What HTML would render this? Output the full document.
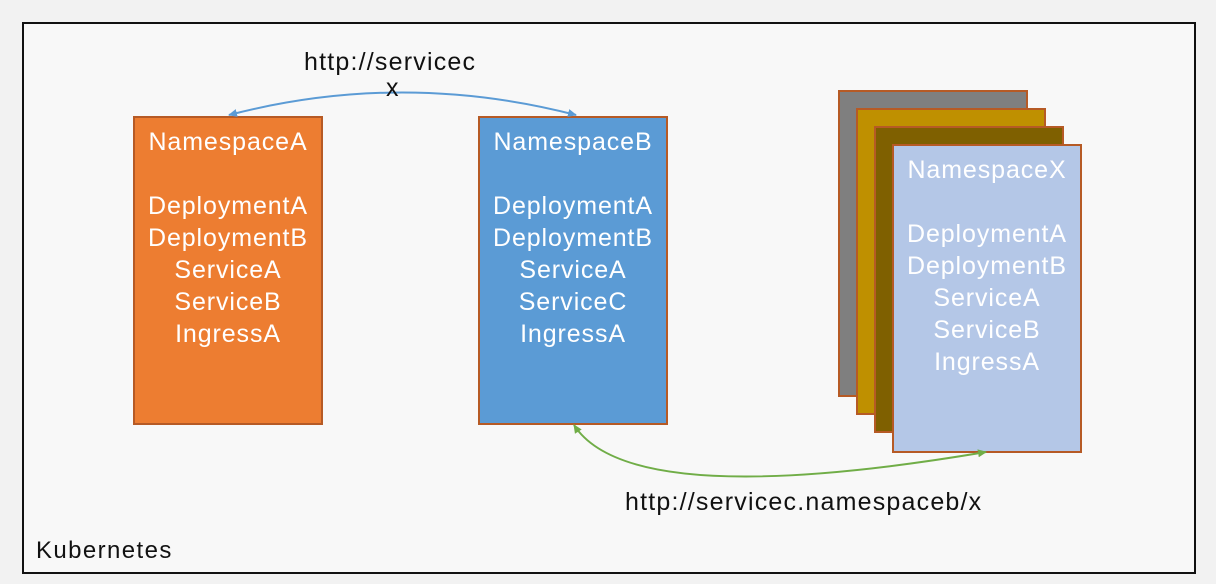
<!DOCTYPE html>
<html><head><style>
body{margin:0;width:1216px;height:584px;background:#f2f2f2;position:relative;overflow:hidden;font-family:"Liberation Sans",sans-serif}
.frame{position:absolute;left:22px;top:22px;width:1170px;height:548px;border:2px solid #111;background:#f8f8f8}
.box{position:absolute;width:186px;height:303px;border:2px solid #b65a25;color:#fff;font-size:25px;letter-spacing:0.9px;text-align:center;line-height:32px;box-sizing:content-box;white-space:nowrap}
.t{position:absolute;font-size:25px;letter-spacing:1.2px;color:#111;white-space:nowrap}
</style></head><body>
<div class="frame"></div>
<div class="box" style="left:133px;top:116px;background:#ed7d31;padding-top:8px;height:297px">NamespaceA<br><br>DeploymentA<br>DeploymentB<br>ServiceA<br>ServiceB<br>IngressA</div>
<div class="box" style="left:478px;top:116px;background:#5b9bd5;padding-top:8px;height:297px">NamespaceB<br><br>DeploymentA<br>DeploymentB<br>ServiceA<br>ServiceC<br>IngressA</div>
<div class="box" style="left:838px;top:90px;background:#7f7f7f"></div>
<div class="box" style="left:856px;top:108px;background:#bf9000"></div>
<div class="box" style="left:874px;top:126px;background:#7f6000"></div>
<div class="box" style="left:892px;top:144px;background:#b4c7e7;padding-top:8px;height:297px">NamespaceX<br><br>DeploymentA<br>DeploymentB<br>ServiceA<br>ServiceB<br>IngressA</div>
<svg width="1216" height="584" style="position:absolute;left:0;top:0">
<defs>
<marker id="ab" markerWidth="10" markerHeight="10" refX="8" refY="5" orient="auto-start-reverse" markerUnits="userSpaceOnUse"><path d="M0,1 L9,5 L0,9 Z" fill="#5b9bd5"/></marker>
<marker id="ag" markerWidth="10" markerHeight="10" refX="8" refY="5" orient="auto-start-reverse" markerUnits="userSpaceOnUse"><path d="M0,1 L9,5 L0,9 Z" fill="#70ad47"/></marker>
</defs>
<path d="M229,115 Q402,70 576,115" fill="none" stroke="#5b9bd5" stroke-width="2" marker-start="url(#ab)" marker-end="url(#ab)"/>
<path d="M574,425 Q630,512 986,452" fill="none" stroke="#70ad47" stroke-width="2" marker-start="url(#ag)" marker-end="url(#ag)"/>
</svg>
<div class="t" style="left:304px;top:48px">http://servicec</div>
<div class="t" style="left:386px;top:74px">x</div>
<div class="t" style="left:625px;top:488px">http://servicec.namespaceb/x</div>
<div class="t" style="left:36px;top:537px;font-size:24px;letter-spacing:1.4px">Kubernetes</div>
</body></html>
